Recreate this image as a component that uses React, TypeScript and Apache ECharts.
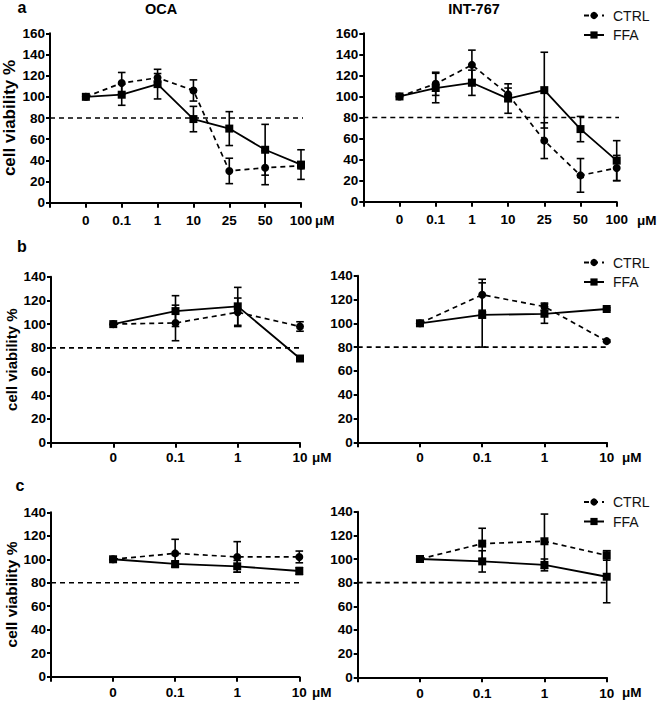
import React, { useEffect, useRef } from "react";
import * as echarts from "echarts";

// ---------- data ----------
const aCats = ["0", "0.1", "1", "10", "25", "50", "100"];
const bcCats = ["0", "0.1", "1", "10"];
const aYMax = 160;
const bcYMax = 140;
const yStep = 20;
const THRESHOLD = 80;
const UNIT = "μM";
const yTitle = "cell viability %";
const titles = ["OCA", "INT-767"];
const panelLetters = ["a", "b", "c"];
const legendNames = ["CTRL", "FFA"];

// panel a – OCA
const aOcaCtrl = [100, 113, 118, 106, 30, 33, 35];
const aOcaCtrlErr = [0, 10, 4, 10, 12, 16, 3];
const aOcaFfa = [100, 102, 112, 79, 70, 50, 36];
const aOcaFfaErr = [0, 10, 14, 12, 16, 24, 14];
// panel a – INT-767
const aIntCtrl = [100, 112, 130, 102, 58, 25, 32];
const aIntCtrlErr = [0, 11, 14, 6, 17, 16, 12];
const aIntFfa = [100, 108, 113, 98, 106, 69, 39];
const aIntFfaErr = [0, 14, 12, 14, 36, 12, 19];
// panel b
const bOcaCtrl = [100, 101, 110, 98];
const bOcaCtrlErr = [0, 15, 12, 4];
const bOcaFfa = [100, 111, 115, 71];
const bOcaFfaErr = [0, 13, 16, 1];
const bIntCtrl = [100, 124, 114, 85];
const bIntCtrlErr = [0, 13, 3, 1];
const bIntFfa = [100, 107, 108, 112];
const bIntFfaErr = [0, 27, 8, 1];
// panel c
const cOcaCtrl = [100, 105, 102, 102];
const cOcaCtrlErr = [0, 12, 13, 5];
const cOcaFfa = [100, 96, 94, 90];
const cOcaFfaErr = [0, 2, 5, 3];
const cIntCtrl = [100, 113, 115, 103];
const cIntCtrlErr = [0, 13, 23, 4];
const cIntFfa = [100, 98, 95, 85];
const cIntFfaErr = [0, 9, 5, 22];

// ---------- layout ----------
const FONT = '"Liberation Sans", Arial, sans-serif';

type Panel = {
  cats: string[];
  ctrl: number[];
  ctrlErr: number[];
  ffa: number[];
  ffaErr: number[];
  yMax: number;
  ctrlSymbol: string;
  left: number;
  top: number;
  width: number;
  height: number;
  isLeft: boolean;
  nameSize: number;
  xMargin: number;
  ext: number;
};

const panels: Panel[] = [
  { cats: aCats, ctrl: aOcaCtrl, ctrlErr: aOcaCtrlErr, ffa: aOcaFfa, ffaErr: aOcaFfaErr, yMax: aYMax, ctrlSymbol: "circle",
    left: 50, top: 33.3, width: 251, height: 169.4, isLeft: true, nameSize: 17, xMargin: 11, ext: 0.12 },
  { cats: aCats, ctrl: aIntCtrl, ctrlErr: aIntCtrlErr, ffa: aIntFfa, ffaErr: aIntFfaErr, yMax: aYMax, ctrlSymbol: "circle",
    left: 363.3, top: 33.3, width: 253.4, height: 168.4, isLeft: false, nameSize: 17, xMargin: 11, ext: 0.17 },
  { cats: bcCats, ctrl: bOcaCtrl, ctrlErr: bOcaCtrlErr, ffa: bOcaFfa, ffaErr: bOcaFfaErr, yMax: bcYMax, ctrlSymbol: "circle",
    left: 51, top: 276.7, width: 249, height: 166, isLeft: true, nameSize: 15, xMargin: 8, ext: 0.16 },
  { cats: bcCats, ctrl: bIntCtrl, ctrlErr: bIntCtrlErr, ffa: bIntFfa, ffaErr: bIntFfaErr, yMax: bcYMax, ctrlSymbol: "circle",
    left: 357.7, top: 275.7, width: 249, height: 166.6, isLeft: false, nameSize: 15, xMargin: 8, ext: 0.2 },
  { cats: bcCats, ctrl: cOcaCtrl, ctrlErr: cOcaCtrlErr, ffa: cOcaFfa, ffaErr: cOcaFfaErr, yMax: bcYMax, ctrlSymbol: "circle",
    left: 51, top: 512.3, width: 248.3, height: 164.4, isLeft: true, nameSize: 15.5, xMargin: 9, ext: 0.07 },
  { cats: bcCats, ctrl: cIntCtrl, ctrlErr: cIntCtrlErr, ffa: cIntFfa, ffaErr: cIntFfaErr, yMax: bcYMax, ctrlSymbol: "rect",
    left: 357.7, top: 511.7, width: 249, height: 165.6, isLeft: false, nameSize: 15.5, xMargin: 9, ext: 0.16 },
];

function errRender(params: any, api: any) {
  const x = api.value(0);
  const lo = api.value(1);
  const hi = api.value(2);
  if (!(hi - lo > 0)) return { type: "group", children: [] };
  const p1 = api.coord([x, hi]);
  const p2 = api.coord([x, lo]);
  const hw = 3.8;
  const style = { stroke: "#000", lineWidth: 1.6 };
  return {
    type: "group",
    children: [
      { type: "line", shape: { x1: p1[0], y1: p1[1], x2: p2[0], y2: p2[1] }, style },
      { type: "line", shape: { x1: p1[0] - hw, y1: p1[1], x2: p1[0] + hw, y2: p1[1] }, style },
      { type: "line", shape: { x1: p2[0] - hw, y1: p2[1], x2: p2[0] + hw, y2: p2[1] }, style },
    ],
  };
}

function buildOption() {
  const grid: any[] = [];
  const xAxis: any[] = [];
  const yAxis: any[] = [];
  const series: any[] = [];
  const axisLine = { show: true, onZero: false, lineStyle: { color: "#000", width: 2 } };
  const labelStyle = { color: "#000", fontWeight: "bold", fontSize: 13.5, fontFamily: FONT };

  panels.forEach((p, i) => {
    const n = p.cats.length;
    grid.push({ left: p.left, top: p.top, width: p.width, height: p.height, containLabel: false });
    xAxis.push({
      type: "value", gridIndex: i, min: -1, max: n - 1, interval: 1,
      axisLine, axisTick: { show: true, length: 5, lineStyle: { color: "#000", width: 2 } },
      splitLine: { show: false },
      axisLabel: { ...labelStyle, margin: p.xMargin, formatter: (v: number) => (v >= 0 ? p.cats[v] ?? "" : "") },
    });
    yAxis.push({
      type: "value", gridIndex: i, min: 0, max: p.yMax, interval: yStep,
      axisLine, axisTick: { show: true, length: 4, lineStyle: { color: "#000", width: 2 } },
      splitLine: { show: false },
      axisLabel: { ...labelStyle, margin: 5 },
      name: p.isLeft ? yTitle : "",
      nameLocation: "middle", nameGap: 32,
      nameTextStyle: { color: "#000", fontWeight: "bold", fontSize: p.nameSize, fontFamily: FONT },
    });
    // threshold line
    series.push({
      type: "line", name: "threshold", xAxisIndex: i, yAxisIndex: i, clip: false, silent: true,
      symbol: "none", data: [[-1, THRESHOLD], [n - 1 + p.ext, THRESHOLD]],
      lineStyle: { color: "#000", width: 1.6, type: [5, 4] }, z: 1,
    });
    // error bars
    series.push({
      type: "custom", name: "ctrl-err", xAxisIndex: i, yAxisIndex: i, silent: true,
      renderItem: errRender, encode: { x: 0, y: [1, 2] }, z: 2,
      data: p.ctrl.map((v, k) => [k, v - p.ctrlErr[k], v + p.ctrlErr[k]]),
    });
    series.push({
      type: "custom", name: "ffa-err", xAxisIndex: i, yAxisIndex: i, silent: true,
      renderItem: errRender, encode: { x: 0, y: [1, 2] }, z: 2,
      data: p.ffa.map((v, k) => [k, v - p.ffaErr[k], v + p.ffaErr[k]]),
    });
    series.push({
      type: "line", name: "CTRL", xAxisIndex: i, yAxisIndex: i,
      data: p.ctrl.map((v, k) => [k, v]),
      symbol: p.ctrlSymbol, symbolSize: 8,
      lineStyle: { color: "#000", width: 1.7, type: [5, 4] },
      itemStyle: { color: "#000" }, z: 3,
    });
    series.push({
      type: "line", name: "FFA", xAxisIndex: i, yAxisIndex: i,
      data: p.ffa.map((v, k) => [k, v]),
      symbol: "rect", symbolSize: 8,
      lineStyle: { color: "#000", width: 1.8, type: "solid" },
      itemStyle: { color: "#000" }, z: 4,
    });
  });

  const legendTops = [3.5, 250.5, 490];
  const legend = legendTops.map((t) => ({
    data: legendNames, orient: "vertical", left: 578, top: t,
    itemWidth: 20, itemHeight: 9, itemGap: 5.5, selectedMode: false,
    textStyle: { fontSize: 14, color: "#111", fontFamily: FONT, padding: [0, 0, 0, 4] },
  }));

  const txt = (text: string, x: number, y: number, size: number, weight: string, align = "center") => ({
    type: "text", x, y, silent: true,
    style: { text, fill: "#000", fontSize: size, fontWeight: weight, fontFamily: FONT, textAlign: align, textVerticalAlign: "middle" },
  });

  const graphic: any[] = [
    txt(titles[0], 161, 9, 14.5, "bold"),
    txt(titles[1], 474, 9, 14.5, "bold"),
    txt(panelLetters[0], 22, 7, 16, "bold"),
    txt(panelLetters[1], 22, 246, 16, "bold"),
    txt(panelLetters[2], 20, 485, 16, "bold"),
    txt(UNIT, 315, 220, 13.5, "bold", "left"),
    txt(UNIT, 637, 220, 13.5, "bold", "left"),
    txt(UNIT, 312, 457, 13.5, "bold", "left"),
    txt(UNIT, 622, 457, 13.5, "bold", "left"),
    txt(UNIT, 312, 692, 13.5, "bold", "left"),
    txt(UNIT, 622, 692, 13.5, "bold", "left"),
  ];

  return { animation: false, backgroundColor: "#fff", grid, xAxis, yAxis, series, legend, graphic };
}

export default function App() {
  const ref = useRef<HTMLDivElement>(null);
  useEffect(() => {
    if (!ref.current) return;
    const chart = echarts.init(ref.current, undefined, { renderer: "svg" });
    chart.setOption(buildOption() as any);
    return () => chart.dispose();
  }, []);
  return (
    <div
      ref={ref}
      style={{ position: "absolute", left: 0, top: 0, width: 658, height: 703, background: "#fff" }}
    />
  );
}
